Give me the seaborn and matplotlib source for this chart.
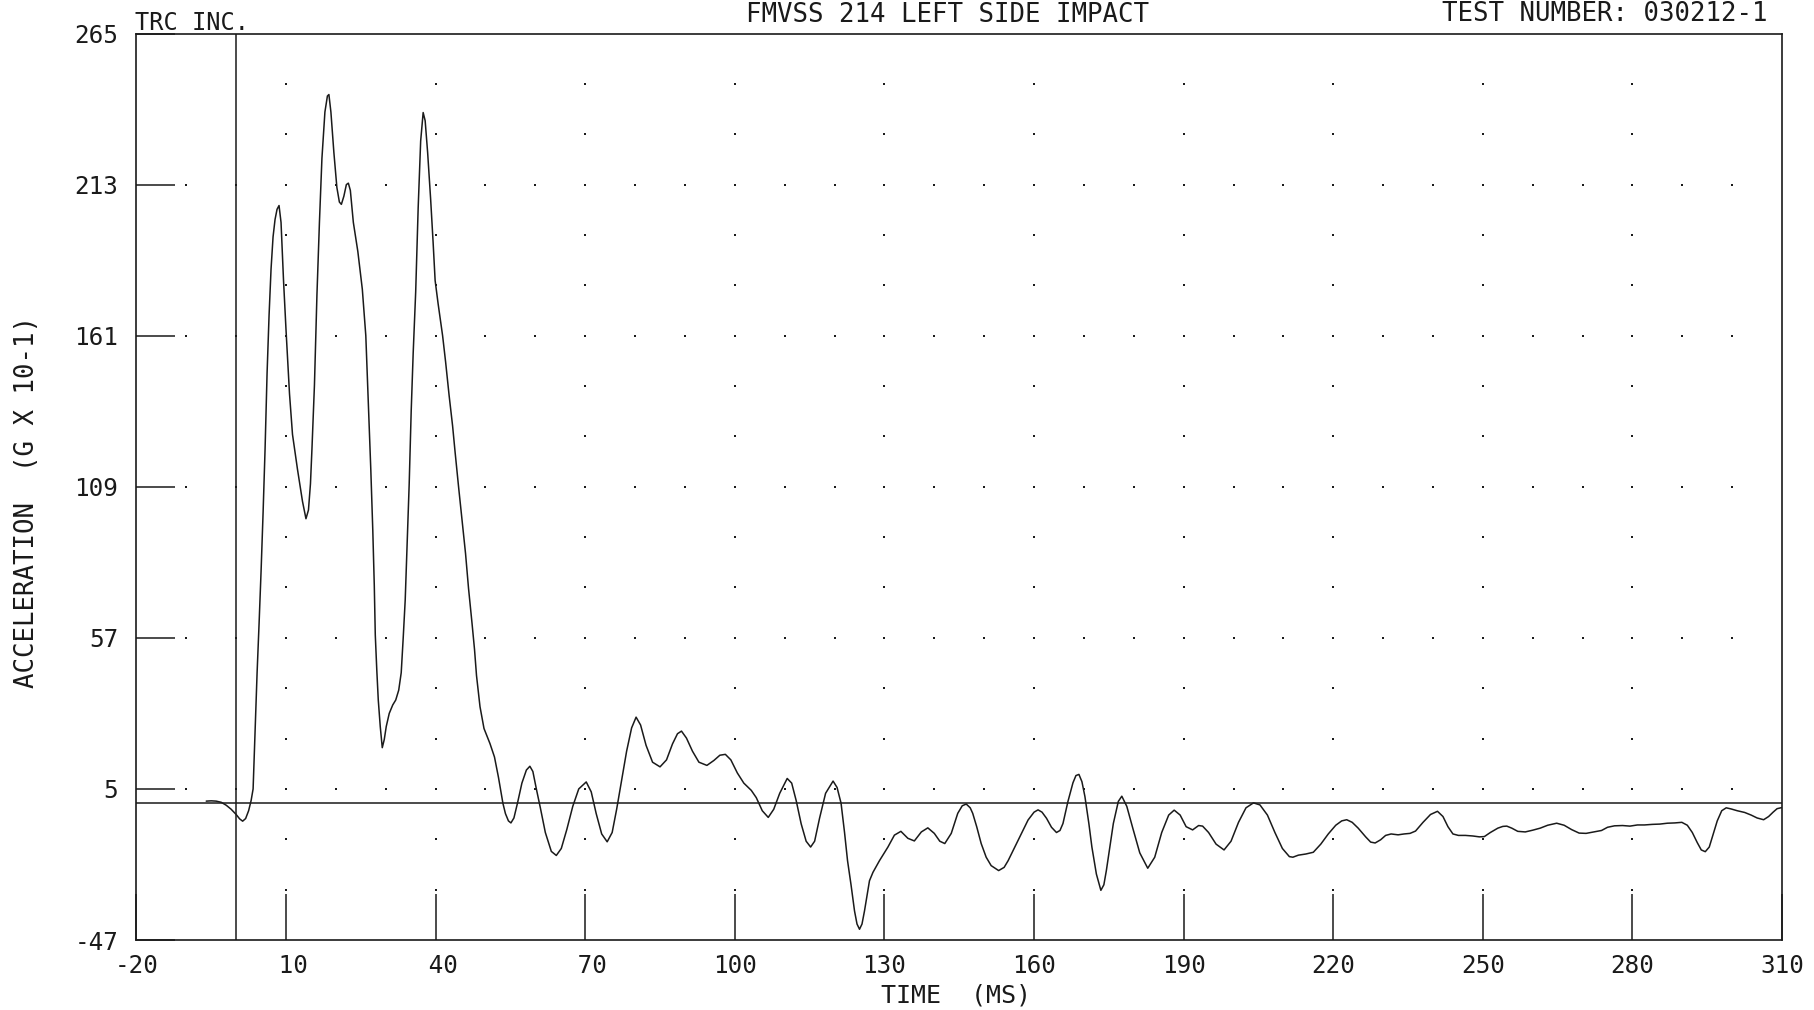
"""
Crash test trace: FMVSS 214 left side impact, acceleration vs time.
Re-draw of a pen-plotter chart with seaborn / matplotlib.
"""

import numpy as np
import pandas as pd
import matplotlib
matplotlib.use("Agg")
import matplotlib.pyplot as plt
import seaborn as sns


# ---------------------------------------------------------------------------
# Data (time in ms, acceleration in G x 10^-1)
# ---------------------------------------------------------------------------
TIME_MS = [
    -6.0, -5.0, -4.0, -3.0, -2.0, -1.0, 0.0, 0.7, 1.3, 1.9, 2.5, 3.0, 3.4,
    3.8, 4.2, 4.6, 5.0, 5.4, 5.8, 6.2, 6.6, 7.0, 7.4, 7.8, 8.2, 8.6, 9.0,
    9.5, 10.0, 10.7, 11.3, 12.3, 13.3, 14.0, 14.5, 14.9, 15.2, 15.7, 16.2,
    16.7, 17.2, 17.8, 18.3, 18.6, 19.0, 19.6, 20.2, 20.7, 21.1, 21.6, 22.1,
    22.5, 22.9, 23.5, 24.4, 25.3, 26.0, 26.5, 27.0, 27.4, 27.7, 27.9, 28.2,
    28.5, 28.9, 29.3, 29.7, 30.1, 30.7, 31.4, 32.0, 32.6, 33.1, 33.5, 33.9,
    34.3, 34.7, 35.1, 35.5, 36.0, 36.5, 37.0, 37.5, 37.9, 38.4, 39.0, 39.5,
    39.9, 40.5, 41.0, 41.4, 42.0, 42.7, 43.4, 43.9, 44.6, 45.3, 46.0, 46.6,
    47.3, 47.8, 48.2, 48.9, 49.7, 50.9, 51.8, 52.6, 53.0, 53.5, 54.0, 54.6,
    55.1, 55.7, 56.4, 57.3, 58.2, 58.9, 59.5, 60.2, 61.0, 62.0, 63.2, 64.2,
    65.2, 66.3, 67.5, 68.7, 70.2, 71.2, 72.2, 73.3, 74.4, 75.4, 76.3, 77.3,
    78.3, 79.3, 80.2, 81.1, 82.2, 83.5, 85.0, 86.3, 87.5, 88.5, 89.3, 90.3,
    91.5, 92.8, 94.4, 95.8, 97.0, 98.1, 99.2, 100.5, 101.8, 103.3, 104.3,
    105.5, 106.7, 107.8, 109.0, 110.5, 111.4, 112.3, 113.3, 114.3, 115.2,
    116.0, 117.0, 118.2, 119.7, 120.5, 121.3, 122.0, 122.6, 123.3, 124.0,
    124.5, 125.0, 125.5, 126.0, 127.0, 127.7, 129.0, 130.7, 132.0, 133.3,
    134.7, 136.0, 137.4, 138.7, 140.0, 141.1, 142.1, 143.4, 144.7, 145.6,
    146.4, 147.2, 147.7, 148.5, 149.4, 150.4, 151.4, 152.9, 154.0, 154.8,
    156.8, 158.8, 160.0, 160.8, 161.6, 162.5, 163.5, 164.5, 165.2, 165.8,
    166.8, 167.8, 168.4, 169.0, 169.6, 170.2, 171.0, 171.6, 172.5, 173.4,
    174.0, 174.5, 175.2, 175.9, 176.9, 177.6, 178.6, 179.8, 181.2, 182.8,
    184.2, 185.6, 187.0, 188.1, 189.3, 190.5, 191.8, 193.0, 193.8, 195.0,
    196.5, 198.1, 199.5, 201.0, 202.5, 204.0, 205.3, 206.8, 208.3, 209.8,
    211.2, 211.9, 213.0, 214.5, 216.0, 217.5, 219.0, 220.5, 221.7, 222.7,
    223.8, 225.0, 226.5, 227.5, 228.4, 229.5, 230.5, 231.6, 233.0, 234.2,
    235.4, 236.5, 238.0, 239.5, 240.9, 242.0, 243.0, 244.0, 245.1, 246.5,
    248.0, 249.3, 250.3, 251.5, 253.0, 254.0, 254.8, 255.8, 257.0, 258.5,
    260.0, 261.5, 263.0, 264.8, 266.3, 267.8, 269.3, 270.7, 272.2, 273.8,
    275.0, 276.4, 278.0, 279.5, 281.0, 282.4, 284.0, 285.5, 287.0, 288.5,
    289.9, 291.0, 292.0, 293.0, 293.8, 294.6, 295.4, 296.2, 297.0, 297.9,
    298.8, 299.8, 301.0, 302.5, 303.8, 305.0, 306.3, 307.3, 308.2, 309.0,
    310.0,
]

ACCEL = [
    0.8, 0.9, 0.8, 0.4, -0.6, -2.0, -3.8, -5.3, -6.1, -5.2, -2.5, 1.0, 5.0,
    25.0, 45.0, 62.0, 80.0, 100.0, 122.0, 148.0, 168.0, 184.0, 195.0, 201.0,
    204.5, 205.8, 200.0, 180.0, 163.0, 141.0, 127.0, 115.0, 104.0, 98.0,
    101.0, 110.0, 122.0, 144.0, 175.0, 200.0, 222.0, 238.0, 243.5, 244.0,
    238.0, 224.0, 212.0, 207.0, 206.2, 209.0, 213.0, 213.5, 211.0, 200.0,
    190.0, 177.0, 161.0, 138.0, 115.0, 94.0, 75.0, 58.0, 46.0, 35.6, 26.4,
    19.2, 22.0, 26.5, 31.0, 33.9, 35.6, 39.0, 45.0, 57.0, 70.0, 90.0, 110.0,
    135.0, 155.0, 176.0, 205.0, 228.0, 237.8, 235.0, 224.0, 208.0, 193.0,
    180.0, 172.0, 166.0, 161.0, 152.0, 140.5, 130.0, 121.0, 109.0, 97.5,
    86.0, 74.0, 62.0, 53.0, 44.0, 33.3, 25.8, 20.6, 16.0, 9.0, 5.0, 0.0,
    -3.5, -6.0, -6.7, -5.0, 0.0, 7.0, 11.5, 12.8, 11.0, 5.0, -1.5, -10.0,
    -16.5, -17.9, -15.5, -9.0, -1.0, 5.0, 7.4, 4.0, -3.5, -10.5, -13.2,
    -10.0, -2.0, 8.0, 18.0, 26.0, 29.7, 27.0, 20.0, 14.2, 12.6, 15.0, 20.5,
    24.0, 24.9, 22.5, 18.0, 14.2, 13.1, 14.8, 16.6, 16.9, 15.0, 10.5, 7.0,
    4.5, 2.0, -2.5, -4.8, -2.0, 3.5, 8.6, 7.0, 1.0, -7.0, -13.0, -15.0,
    -13.0, -5.0, 3.5, 7.7, 5.5, 0.1, -10.0, -19.7, -28.0, -37.0, -41.5,
    -43.3, -41.5, -37.0, -26.6, -23.7, -19.7, -15.0, -10.9, -9.6, -12.0,
    -12.9, -9.8, -8.4, -10.3, -13.0, -13.8, -10.3, -3.4, -0.8, -0.2, -1.5,
    -3.4, -8.0, -13.8, -18.5, -21.4, -23.1, -22.0, -19.7, -12.7, -5.7, -3.0,
    -2.2, -3.0, -5.1, -8.2, -10.0, -9.3, -6.9, 0.7, 7.1, 9.6, 10.0, 7.5,
    2.4, -7.0, -15.0, -24.3, -29.9, -28.0, -23.1, -15.0, -6.9, 0.7, 2.5,
    -1.0, -8.5, -17.0, -22.3, -18.5, -10.0, -4.0, -2.3, -4.0, -8.0, -9.1,
    -7.6, -7.8, -10.0, -14.0, -16.0, -13.0, -6.5, -1.5, 0.2, -0.5, -4.0,
    -10.0, -15.5, -18.3, -18.5, -17.8, -17.4, -16.8, -14.0, -10.5, -7.5,
    -6.0, -5.6, -6.5, -8.5, -11.5, -13.3, -13.6, -12.5, -11.0, -10.5, -10.8,
    -10.5, -10.3, -9.5, -6.5, -3.8, -2.7, -4.5, -8.0, -10.5, -11.0, -11.0,
    -11.2, -11.5, -11.4, -10.0, -8.5, -7.9, -7.8, -8.5, -9.6, -9.8, -9.2,
    -8.5, -7.5, -6.8, -7.5, -9.0, -10.2, -10.3, -9.8, -9.3, -8.2, -7.7,
    -7.6, -7.8, -7.4, -7.4, -7.2, -7.1, -6.8, -6.7, -6.5, -7.5, -10.0,
    -13.5, -16.0, -16.6, -15.0, -10.5, -6.0, -2.5, -1.5, -1.9, -2.5, -3.1,
    -4.0, -5.0, -5.6, -4.5, -3.0, -1.8, -1.4,
]

X_TICKS = [-20, 10, 40, 70, 100, 130, 160, 190, 220, 250, 280, 310]
X_LABELS = ["-20", " 10", " 40", " 70", "100", "130", "160", "190",
            "220", "250", "280", "310"]
Y_TICKS = [-47, 5, 57, 109, 161, 213, 265]
Y_LABELS = ["-47", "5", "57", "109", "161", "213", "265"]


# ---------------------------------------------------------------------------
# Plot
# ---------------------------------------------------------------------------
def plot_trace(df: pd.DataFrame):
    """Draw the acceleration trace in the style of the old pen plot."""
    sns.set_style("white")
    plt.rcParams["font.family"] = ["DejaVu Sans Mono", "DejaVu Sans"]
    ink = "#1a1a1a"

    fig, ax = plt.subplots(figsize=(18.14, 10.10), dpi=100)
    fig.subplots_adjust(left=0.0752, right=0.9824, bottom=0.0693, top=0.9668)

    # --- dotted grid: full rows on y ticks, columns on x ticks ---
    inner_y = Y_TICKS[1:-1]
    inner_x = X_TICKS[1:-1]
    row_x = np.arange(-10, 301, 10)
    step = (Y_TICKS[1] - Y_TICKS[0]) / 3
    col_y = Y_TICKS[0] + step * np.arange(1, 18)
    gx = np.concatenate([np.tile(row_x, len(inner_y)),
                         np.repeat(inner_x, len(col_y))])
    gy = np.concatenate([np.repeat(inner_y, len(row_x)),
                         np.tile(col_y, len(inner_x))])
    ax.scatter(gx, gy, s=3, color=ink, marker="s", linewidths=0, zorder=1)

    # --- reference lines ---
    ax.axvline(0, color=ink, lw=1.1, zorder=2)
    ax.axhline(0, color=ink, lw=1.1, zorder=2)

    # --- trace ---
    sns.lineplot(data=df, x="time", y="accel", sort=False, estimator=None,
                 color=ink, lw=1.1, ax=ax, zorder=3)

    ax.set_xlim(X_TICKS[0], X_TICKS[-1])
    ax.set_ylim(Y_TICKS[0], Y_TICKS[-1])
    ax.set_xticks(X_TICKS)
    ax.set_xticklabels(X_LABELS)
    ax.set_yticks(Y_TICKS)
    ax.set_yticklabels(Y_LABELS)
    ax.set_xlabel("")
    ax.set_ylabel("")
    ax.tick_params(axis="x", bottom=True, direction="in", length=33,
                   width=1.1, color=ink, pad=10, labelsize=17.5,
                   labelcolor=ink)
    ax.tick_params(axis="y", left=True, direction="in", length=28,
                   width=1.1, color=ink, pad=13, labelsize=17.5,
                   labelcolor=ink)
    for spine in ax.spines.values():
        spine.set_visible(True)
        spine.set_color(ink)
        spine.set_linewidth(1.2)

    # --- header and axis titles ---
    fig.text(135 / 1814, 1 - 23 / 1010, "TRC INC.", fontsize=17,
             ha="left", va="center", color=ink)
    fig.text(948 / 1814, 1 - 15 / 1010, "FMVSS 214 LEFT SIDE IMPACT",
             fontsize=18.5, ha="center", va="center", color=ink)
    fig.text(1768 / 1814, 1 - 14 / 1010, "TEST NUMBER: 030212-1",
             fontsize=18.5, ha="right", va="center", color=ink)
    fig.text(956 / 1814, 1 - 995 / 1010, "TIME  (MS)", fontsize=18,
             ha="center", va="center", color=ink)
    fig.text(27 / 1814, 1 - 502 / 1010, "ACCELERATION  (G X 10-1)",
             fontsize=18.5, rotation=90, ha="center", va="center", color=ink)

    fig.savefig("out.png", dpi=100, facecolor="white")


if __name__ == "__main__":
    trace = pd.DataFrame({"time": TIME_MS, "accel": ACCEL})
    plot_trace(trace)
